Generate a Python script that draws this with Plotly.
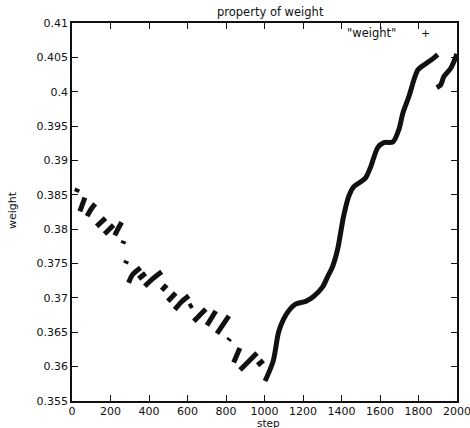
import plotly.graph_objects as go

# data (None separates the separate runs of points)
steps = [
    22, 30, None,
    41, 54, 67, None,
    78, 99, 120, None,
    128, 174, None,
    169, 216, None,
    222, 240, 258, None,
    264, 270, None,
    278, 284, None,
    294, 315, 356, None,
    346, 382, None,
    378, 420, 466, None,
    466, 492, None,
    498, 539, None,
    534, 568, 607, None,
    608, 626, None,
    633, 695, None,
    701, 747, None,
    753, 815, None,
    812, 820, None,
    840, 872, None,
    873, 961, None,
    964, 994, None,
    1003, 1045, 1073, 1099, 1125, 1161, 1214, 1255, 1302, 1328, 1354, 1380,
    1411, 1438, 1464, 1500, 1526, 1552, 1589, 1620, 1667, 1698, 1719, 1750,
    1776, 1797, 1828, 1865, 1900, None,
    1895, 1915, 1932, 1969, 2000,
]
weights = [
    0.3854, 0.3859, None,
    0.3826, 0.3836, 0.3846, None,
    0.3819, 0.3829, 0.3837, None,
    0.3804, 0.3816, None,
    0.3793, 0.3806, None,
    0.3791, 0.3801, 0.3810, None,
    0.3779, 0.3783, None,
    0.3750, 0.3754, None,
    0.3722, 0.3734, 0.3744, None,
    0.3728, 0.3736, None,
    0.3717, 0.3728, 0.3738, None,
    0.3711, 0.3719, None,
    0.3695, 0.3707, None,
    0.3683, 0.3694, 0.3703, None,
    0.3687, 0.3690, None,
    0.3666, 0.3684, None,
    0.3660, 0.3681, None,
    0.3648, 0.3674, None,
    0.3638, 0.3641, None,
    0.3606, 0.3627, None,
    0.3595, 0.3620, None,
    0.3602, 0.3609, None,
    0.3579, 0.3608, 0.3650, 0.3669, 0.3681, 0.3691, 0.3695, 0.3702, 0.3716, 0.3731, 0.3746, 0.3771,
    0.3819, 0.3848, 0.3862, 0.3869, 0.3875, 0.3891, 0.3919, 0.3926, 0.3927, 0.3945, 0.3969, 0.3993,
    0.4017, 0.4032, 0.4039, 0.4046, 0.4054, None,
    0.4006, 0.4010, 0.4022, 0.4035, 0.4055,
]

x_ticks = [0, 200, 400, 600, 800, 1000, 1200, 1400, 1600, 1800, 2000]
x_tick_labels = ["0", "200", "400", "600", "800", "1000", "1200", "1400", "1600", "1800", "2000"]
y_ticks = [0.355, 0.36, 0.365, 0.37, 0.375, 0.38, 0.385, 0.39, 0.395, 0.4, 0.405, 0.41]
y_tick_labels = ["0.355", "0.36", "0.365", "0.37", "0.375", "0.38", "0.385", "0.39",
                 "0.395", "0.4", "0.405", "0.41"]

FONT = "DejaVu Sans"
INK = "#111111"

fig = go.Figure()
fig.add_trace(go.Scatter(
    x=steps, y=weights, mode="lines", connectgaps=False,
    line=dict(color=INK, width=5, shape="spline", smoothing=0.8),
    showlegend=False, hoverinfo="skip",
))

axis_common = dict(
    showgrid=False, zeroline=False, showline=True, linecolor=INK, linewidth=1.5,
    mirror="ticks", ticks="inside", ticklen=6, tickwidth=1, tickcolor=INK,
    tickfont=dict(family=FONT, size=11, color=INK),
    ticklabeloverflow="allow", automargin=False,
)

W, H = 470, 428
L, R, T, B = 72, 13, 23, 27
pw, ph = W - L - R, H - T - B

fig.update_layout(
    width=W, height=H,
    margin=dict(l=L, r=R, t=T, b=B),
    paper_bgcolor="white", plot_bgcolor="white",
    font=dict(family=FONT, color=INK),
    xaxis=dict(range=[0, 2000], tickvals=x_ticks, ticktext=x_tick_labels,
               ticklabelstandoff=-1, **axis_common),
    yaxis=dict(range=[0.355, 0.41], tickvals=y_ticks, ticktext=y_tick_labels, **axis_common),
    annotations=[
        dict(text="property of weight", x=(270 - L) / pw, y=1 + (T - 12) / ph,
             xref="paper", yref="paper", xanchor="center", yanchor="middle",
             showarrow=False, font=dict(family=FONT, size=11.5, color=INK)),
        dict(text="step", x=(268 - L) / pw, y=-(423 - (T + ph)) / ph,
             xref="paper", yref="paper", xanchor="center", yanchor="middle",
             showarrow=False, font=dict(family=FONT, size=10.5, color=INK)),
        dict(text="weight", x=-(L - 13) / pw, y=1 - (210 - T) / ph, textangle=-90,
             xref="paper", yref="paper", xanchor="center", yanchor="middle",
             showarrow=False, font=dict(family=FONT, size=11, color=INK)),
        dict(text='"weight"', x=(398 - L) / pw, y=1 - (33 - T) / ph,
             xref="paper", yref="paper", xanchor="right", yanchor="middle",
             showarrow=False, font=dict(family=FONT, size=11.5, color=INK)),
        dict(text="+", x=(425 - L) / pw, y=1 - (33 - T) / ph,
             xref="paper", yref="paper", xanchor="center", yanchor="middle",
             showarrow=False, font=dict(family=FONT, size=11, color=INK)),
    ],
)

fig.write_html("out.html", config={"displayModeBar": False},
               post_script="document.body.style.margin='0';")
